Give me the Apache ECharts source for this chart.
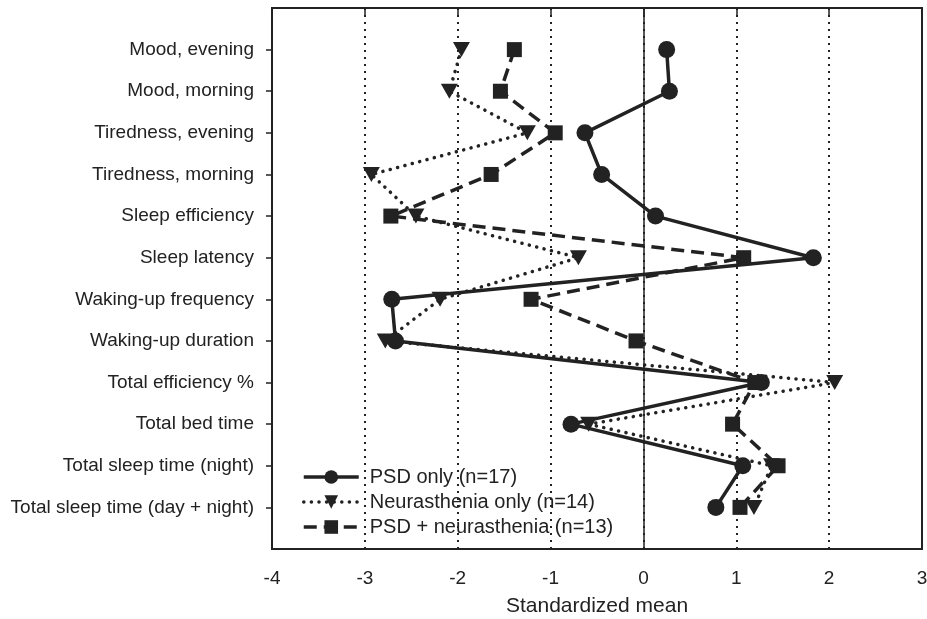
<!DOCTYPE html>
<html>
<head>
<meta charset="utf-8">
<script src="https://cdn.jsdelivr.net/npm/echarts@6/dist/echarts.min.js"></script>
<style>
  html, body { margin: 0; padding: 0; background: #fff; }
  #main { width: 927px; height: 619px; }
</style>
</head>
<body>
<div id="main"></div>
<script>
// categories, top to bottom
var categories = [
  'Mood, evening', 'Mood, morning', 'Tiredness, evening', 'Tiredness, morning',
  'Sleep efficiency', 'Sleep latency', 'Waking-up frequency', 'Waking-up duration',
  'Total efficiency %', 'Total bed time', 'Total sleep time (night)',
  'Total sleep time (day + night)'
];
// standardized means
var psdOnly = [0.25, 0.28, -0.63, -0.45, 0.13, 1.83, -2.71, -2.67, 1.27, -0.78, 1.07, 0.78];
var neurOnly = [-1.96, -2.09, -1.25, -2.93, -2.45, -0.70, -2.19, -2.78, 2.06, -0.59, 1.38, 1.19];
var psdNeur = [-1.39, -1.54, -0.95, -1.64, -2.72, 1.08, -1.21, -0.08, 1.20, 0.96, 1.45, 1.04];
var xTicks = [-4, -3, -2, -1, 0, 1, 2, 3];

var names = ['PSD only (n=17)', 'Neurasthenia only (n=14)', 'PSD + neurasthenia (n=13)'];
var font = 'Liberation Sans, Arial, sans-serif';
var ink = '#222';

// y is the 1-based row index so the rows sit one step in from the frame
var rows = categories.map(function (c, i) { return i + 1; });
function pairs(vals) {
  return vals.map(function (v, i) { return [v, rows[i]]; });
}

var myChart = echarts.init(document.getElementById('main'));
var option = {
  animation: false,
  textStyle: { fontFamily: font, color: ink },
  grid: {
    left: 272, right: 5, top: 8, bottom: 70,
    outerBoundsMode: 'none', containLabel: false,
    show: true, borderColor: ink, borderWidth: 2, backgroundColor: 'transparent'
  },
  legend: {
    data: names,
    orient: 'vertical',
    left: 297, top: 461,
    itemWidth: 55, itemHeight: 17, itemGap: 3,
    lineStyle: { width: 3.5 },
    textStyle: { fontSize: 20, lineHeight: 22, color: ink, fontFamily: font, padding: [0, 0, 0, 6] }
  },
  xAxis: {
    type: 'value',
    min: xTicks[0], max: xTicks[xTicks.length - 1], interval: 1,
    name: 'Standardized mean',
    nameLocation: 'middle', nameGap: 47,
    nameTextStyle: { fontSize: 21, color: ink, fontFamily: font },
    axisLine: { show: true, lineStyle: { color: ink, width: 2 } },
    axisTick: { show: true, length: 7, lineStyle: { color: ink, width: 1.5 } },
    axisLabel: { fontSize: 19, color: ink, margin: 20, fontFamily: font },
    splitLine: { show: true, lineStyle: { color: ink, width: 2, type: [2, 5] } }
  },
  yAxis: {
    type: 'value',
    min: 0, max: categories.length + 1, interval: 1, inverse: true,
    axisLine: { show: true, onZero: false, lineStyle: { color: ink, width: 2 } },
    axisTick: { show: true, length: 6, customValues: rows, lineStyle: { color: ink, width: 1.5 } },
    axisLabel: {
      fontSize: 19, color: ink, margin: 18, fontFamily: font, customValues: rows,
      formatter: function (v) { return categories[v - 1] || ''; }
    },
    splitLine: { show: false }
  },
  series: [
    {
      name: names[1], type: 'line', data: pairs(neurOnly), z: 2,
      symbol: 'triangle', symbolRotate: 180, symbolSize: [17, 15],
      itemStyle: { color: ink },
      lineStyle: { color: ink, width: 3.5, type: [0.1, 7.5], cap: 'round' },
      markLine: {
        silent: true, symbol: 'none', label: { show: false },
        lineStyle: { color: ink, width: 1.5, type: 'solid' },
        data: [{ xAxis: 0 }]
      }
    },
    {
      name: names[2], type: 'line', data: pairs(psdNeur), z: 3,
      symbol: 'rect', symbolSize: 15,
      itemStyle: { color: ink },
      lineStyle: { color: ink, width: 3.5, type: [13, 7] }
    },
    {
      name: names[0], type: 'line', data: pairs(psdOnly), z: 4,
      symbol: 'circle', symbolSize: 17,
      itemStyle: { color: ink },
      lineStyle: { color: ink, width: 3.5, type: 'solid' }
    }
  ]
};
myChart.setOption(option);
</script>
</body>
</html>
